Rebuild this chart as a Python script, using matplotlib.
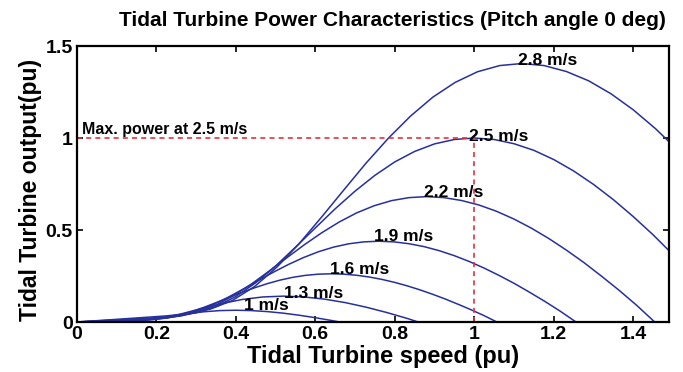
import matplotlib
matplotlib.use('Agg')
import matplotlib.pyplot as plt

plt.rcParams['font.family'] = ['Liberation Sans', 'DejaVu Sans']
plt.rcParams['font.weight'] = 'bold'

# turbine speed (pu) / output (pu)
x_10 = [0, 0.04, 0.08, 0.12, 0.16, 0.20, 0.24, 0.28, 0.32, 0.36, 0.40, 0.44, 0.48, 0.52, 0.56, 0.60, 0.64, 0.661]
y_10 = [0, 0.0007, 0.0015, 0.0032, 0.0088, 0.0195, 0.0327, 0.0455, 0.0557, 0.0620, 0.064, 0.0620, 0.0565, 0.0479, 0.0367, 0.0234, 0.0086, 0]

x_13 = [0, 0.052, 0.104, 0.156, 0.208, 0.26, 0.312, 0.364, 0.416, 0.468, 0.52, 0.572, 0.624, 0.676, 0.728, 0.78, 0.832, 0.859]
y_13 = [0, 0.0016, 0.0033, 0.0070, 0.0194, 0.0427, 0.0718, 0.1000, 0.1223, 0.1361, 0.1406, 0.1362, 0.1241, 0.1052, 0.0806, 0.0515, 0.0190, 0]

x_16 = [0, 0.064, 0.128, 0.16, 0.192, 0.224, 0.256, 0.288, 0.32, 0.352, 0.384, 0.416, 0.448, 0.48, 0.512, 0.544,
        0.576, 0.608, 0.64, 0.672, 0.704, 0.736, 0.768, 0.80, 0.832, 0.864, 0.896, 0.928, 0.96, 0.992, 1.024, 1.057]
y_16 = [0, 0.0030, 0.0061, 0.0084, 0.0131, 0.0219, 0.0362, 0.0558, 0.0797, 0.1064, 0.1339, 0.1612, 0.1864, 0.2089, 0.2280, 0.2430,
        0.2537, 0.2600, 0.2621, 0.2600, 0.2540, 0.2445, 0.2314, 0.2152, 0.1961, 0.1743, 0.1502, 0.1242, 0.0959, 0.0666, 0.0354, 0]

x_19 = [0, 0.076, 0.152, 0.19, 0.228, 0.266, 0.304, 0.342, 0.38, 0.418, 0.456, 0.494, 0.532, 0.57, 0.608, 0.646,
        0.684, 0.722, 0.76, 0.798, 0.836, 0.874, 0.912, 0.95, 0.988, 1.026, 1.064, 1.102, 1.14, 1.178, 1.216, 1.256]
y_19 = [0, 0.0050, 0.0103, 0.0140, 0.0219, 0.0367, 0.0606, 0.0935, 0.1335, 0.1782, 0.2243, 0.2700, 0.3121, 0.3499, 0.3819, 0.4070,
        0.4250, 0.4355, 0.4390, 0.4355, 0.4254, 0.4096, 0.3876, 0.3604, 0.3284, 0.2919, 0.2515, 0.2081, 0.1607, 0.1115, 0.0593, 0]

x_22 = [0, 0.088, 0.176, 0.22, 0.264, 0.308, 0.352, 0.396, 0.44, 0.484, 0.528, 0.572, 0.616, 0.66, 0.704, 0.748,
        0.792, 0.836, 0.88, 0.924, 0.968, 1.012, 1.056, 1.10, 1.144, 1.188, 1.232, 1.276, 1.32, 1.364, 1.408, 1.454]
y_22 = [0, 0.0078, 0.0159, 0.0218, 0.0339, 0.0570, 0.0940, 0.1452, 0.2072, 0.2767, 0.3483, 0.4191, 0.4845, 0.5432, 0.5929, 0.6318,
        0.6597, 0.6760, 0.6815, 0.6760, 0.6604, 0.6358, 0.6018, 0.5595, 0.5098, 0.4532, 0.3905, 0.3230, 0.2494, 0.1731, 0.0920, 0]

x_25 = [0, 0.1, 0.2, 0.25, 0.3, 0.35, 0.4, 0.45, 0.5, 0.55, 0.6, 0.65, 0.7, 0.75, 0.8, 0.85,
        0.9, 0.95, 1.0, 1.05, 1.1, 1.15, 1.2, 1.25, 1.3, 1.35, 1.4, 1.45, 1.5]
y_25 = [0, 0.0115, 0.0234, 0.032, 0.0498, 0.0836, 0.138, 0.213, 0.304, 0.406, 0.511, 0.615, 0.711, 0.797, 0.870, 0.927,
        0.968, 0.992, 1.0, 0.992, 0.969, 0.933, 0.883, 0.821, 0.748, 0.665, 0.573, 0.474, 0.366]

x_28 = [0, 0.112, 0.224, 0.28, 0.336, 0.392, 0.448, 0.504, 0.56, 0.616, 0.672, 0.728, 0.784, 0.84, 0.896, 0.952,
        1.008, 1.064, 1.12, 1.176, 1.232, 1.288, 1.344, 1.40, 1.456, 1.512]
y_28 = [0, 0.0162, 0.0329, 0.0450, 0.0700, 0.1174, 0.1939, 0.2992, 0.4271, 0.5704, 0.7179, 0.8640, 0.9989, 1.1197, 1.2223, 1.3023,
        1.3599, 1.3937, 1.4049, 1.3937, 1.3613, 1.3108, 1.2405, 1.1534, 1.0509, 0.9343]

curves = [(x_10, y_10), (x_13, y_13), (x_16, y_16), (x_19, y_19), (x_22, y_22), (x_25, y_25), (x_28, y_28)]

labels = ['1 m/s', '1.3 m/s', '1.6 m/s', '1.9 m/s', '2.2 m/s', '2.5 m/s', '2.8 m/s']
label_x = [0.478, 0.596, 0.712, 0.823, 0.949, 1.061, 1.185]
label_y = [0.087, 0.156, 0.283, 0.464, 0.703, 1.01, 1.42]

rated_speed = 1.0
rated_power = 1.0

fig = plt.figure(figsize=(6.83, 3.72), dpi=100)
ax = fig.add_axes([0.1124, 0.1344, 0.8671, 0.7419])

for xs, ys in curves:
    ax.plot(xs, ys, color='#27309b', lw=1.1)

# max power marker
ax.plot([0, rated_speed], [rated_power, rated_power], color='#e8303a', lw=1.2, ls=(0, (3, 2.5)))
ax.plot([rated_speed, rated_speed], [0, rated_power], color='#e8303a', lw=1.2, ls=(0, (3, 2.5)))
ax.text(0.012, 1.005, 'Max. power at 2.5 m/s', fontsize=11.5, fontweight='bold', ha='left', va='bottom')

for lab, lx, ly in zip(labels, label_x, label_y):
    ax.text(lx, ly, lab, fontsize=12.5, fontweight='bold', ha='center', va='center')

ax.set_xlim(0, 1.49)
ax.set_ylim(0, 1.5)
ax.set_xticks([0, 0.2, 0.4, 0.6, 0.8, 1, 1.2, 1.4])
ax.set_xticklabels(['0', '0.2', '0.4', '0.6', '0.8', '1', '1.2', '1.4'])
ax.set_yticks([0, 0.5, 1, 1.5])
ax.set_yticklabels(['0', '0.5', '1', '1.5'])
ax.tick_params(direction='in', length=4, width=1.2, top=True, right=True, labelsize=14, pad=3)
for s in ax.spines.values():
    s.set_linewidth(1.6)

ax.set_xlabel('Tidal Turbine speed (pu)', fontsize=17, fontweight='bold')
ax.xaxis.set_label_coords(0.517, -0.085)
ax.set_ylabel('Tidal Turbine output(pu)', fontsize=16.5, fontweight='bold')
ax.yaxis.set_label_coords(-0.059, 0.478)

fig.text(0.574, 1 - 20 / 372, 'Tidal Turbine Power Characteristics (Pitch angle 0 deg)',
         fontsize=15, fontweight='bold', ha='center', va='center')

fig.savefig('out.png', dpi=100)
